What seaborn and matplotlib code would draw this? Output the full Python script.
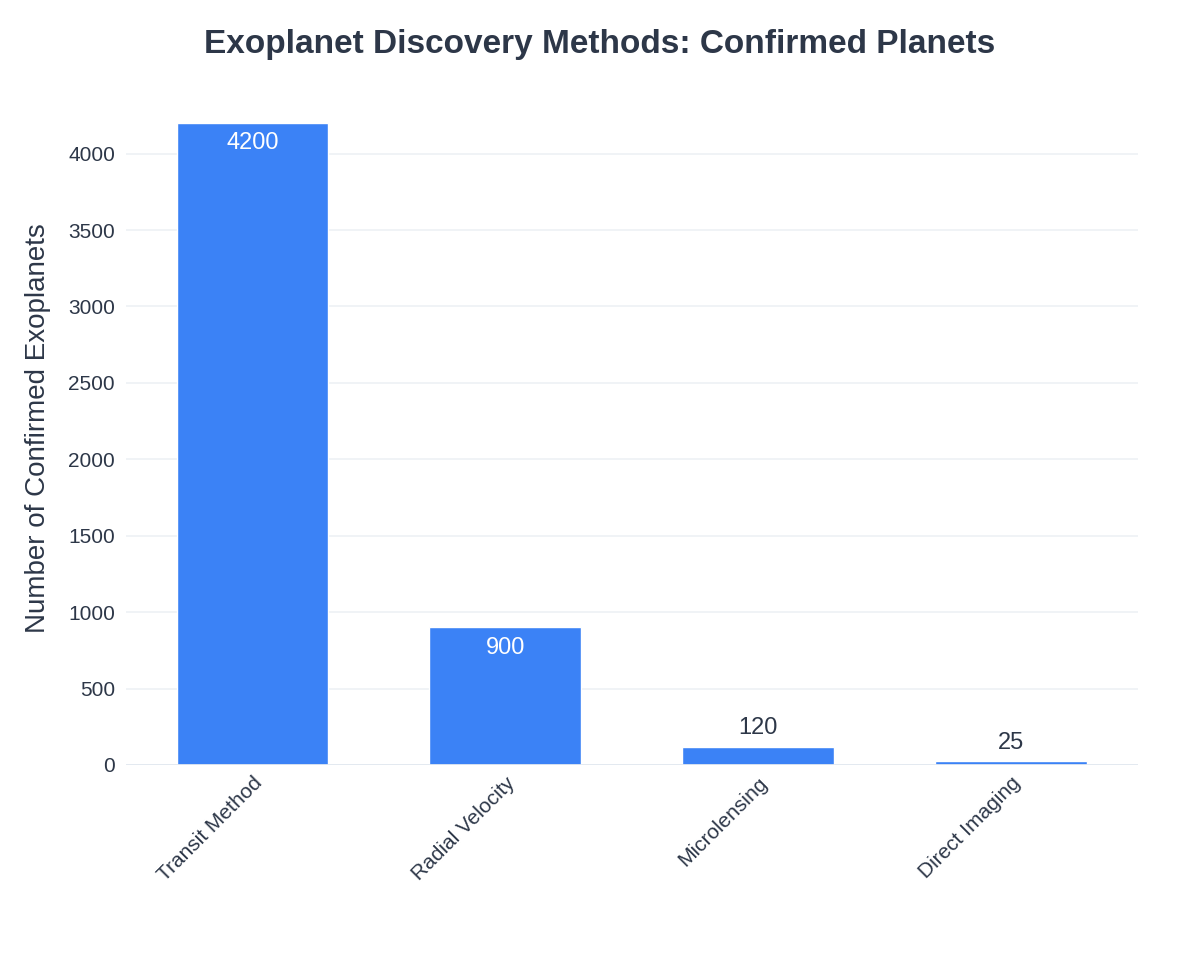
import matplotlib
matplotlib.use("Agg")
import matplotlib.pyplot as plt
import seaborn as sns
import pandas as pd

methods = ["Transit Method", "Radial Velocity", "Microlensing", "Direct Imaging"]
counts = [4200, 900, 120, 25]

TEXT = "#2D3748"
BLUE = "#3B82F6"

sns.set_theme(style="white")
plt.rcParams["font.family"] = ["Liberation Sans", "DejaVu Sans"]

df = pd.DataFrame({"method": methods, "count": counts})

fig = plt.figure(figsize=(12, 9.75), dpi=100)
ax = fig.add_axes([0.105, 0.2154, 0.843, 0.6913])

sns.barplot(data=df, x="method", y="count", color=BLUE, width=0.6,
            saturation=1, ax=ax, zorder=3)

ax.set_ylim(0, 4410)
ax.set_xlim(-0.5, 3.5)
ax.set_yticks(range(0, 4001, 500))
ax.grid(axis="y", color="#EEF1F5", linewidth=1.2, zorder=0)
ax.axhline(0, color="#E2E8F0", linewidth=2, zorder=4)
for s in ax.spines.values():
    s.set_visible(False)

# value labels: inside the bar when tall enough, above it otherwise
for i, v in enumerate(counts):
    if v > 400:
        ax.text(i, v - 60, str(v), ha="center", va="top", color="white", fontsize=17)
    else:
        ax.text(i, v + 50, str(v), ha="center", va="bottom", color=TEXT, fontsize=17)

ax.set_xlabel("")
ax.set_ylabel("Number of Confirmed Exoplanets", fontsize=20, color=TEXT, labelpad=12)
ax.tick_params(axis="y", labelsize=15, colors=TEXT, length=0, pad=8)
ax.tick_params(axis="x", labelsize=15, colors=TEXT, length=0, pad=6)
plt.setp(ax.get_xticklabels(), rotation=45, ha="right", rotation_mode="anchor")

fig.suptitle("Exoplanet Discovery Methods: Confirmed Planets", fontsize=24,
             fontweight="bold", color=TEXT, y=0.97)

fig.savefig("out.png", dpi=100)
